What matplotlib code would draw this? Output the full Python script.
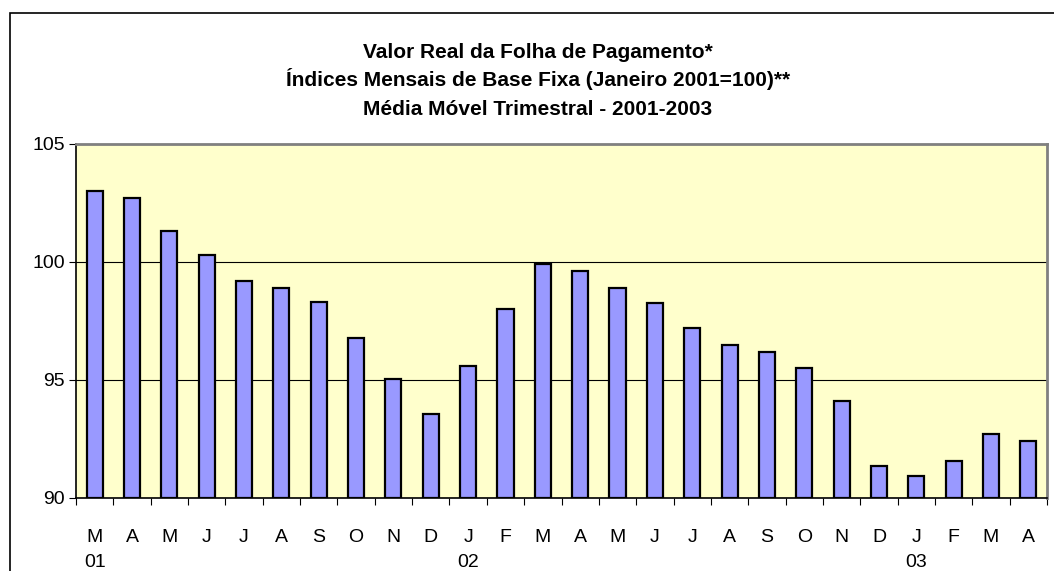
import numpy as np
import matplotlib
matplotlib.use("Agg")
import matplotlib.pyplot as plt
from matplotlib.patches import Rectangle

months = ["M", "A", "M", "J", "J", "A", "S", "O", "N", "D", "J", "F",
          "M", "A", "M", "J", "J", "A", "S", "O", "N", "D", "J", "F", "M", "A"]
years = {0: "01", 10: "02", 22: "03"}
values = [103.0, 102.7, 101.3, 100.3, 99.2, 98.9, 98.3, 96.8, 95.05, 93.55,
          95.6, 98.0, 99.9, 99.6, 98.9, 98.25, 97.2, 96.5, 96.2, 95.5,
          94.1, 91.35, 90.95, 91.55, 92.7, 92.4]

title_lines = ["Valor Real da Folha de Pagamento*",
               "Índices Mensais de Base Fixa (Janeiro 2001=100)**",
               "Média Móvel Trimestral - 2001-2003"]

plt.rcParams["font.family"] = ["Liberation Sans", "DejaVu Sans"]

fig = plt.figure(figsize=(10.54, 5.71), dpi=100)
ax = fig.add_axes([76/1054, 1 - 498/571, (1047-76)/1054, (498-144)/571])
ax.set_facecolor("#FFFFCC")

x = np.arange(len(values))
ax.bar(x, [v - 90 for v in values], bottom=90, width=0.43,
       color="#9999FF", edgecolor="black", linewidth=1.6, zorder=3)

ax.set_xlim(-0.5, len(values) - 0.5)
ax.set_ylim(90, 105)
ax.set_yticks([90, 95, 100, 105])
ax.yaxis.grid(True, color="black", linewidth=0.8, zorder=1)
ax.tick_params(axis="y", direction="out", length=5, labelsize=14, pad=3)

# ticks between categories, labels centred under bars
ax.set_xticks(np.arange(len(values) + 1) - 0.5)
ax.set_xticklabels([])
ax.tick_params(axis="x", direction="out", length=5)
ax.set_xticks(x, minor=True)
labels = [m + "\n" + years.get(i, "") for i, m in enumerate(months)]
ax.set_xticklabels(labels, minor=True, fontsize=14, linespacing=1.65)
ax.tick_params(axis="x", which="minor", length=0, pad=22)

for s in ["top", "right"]:
    ax.spines[s].set_color("#808080")
    ax.spines[s].set_linewidth(2)
for s in ["left", "bottom"]:
    ax.spines[s].set_color("black")
    ax.spines[s].set_linewidth(1.2)

# title, one line at a time so the accent does not skew the spacing
for line, base in zip(title_lines, [57.5, 86.5, 115]):
    fig.text(538/1054, 1 - base/571, line, ha="center", va="baseline",
             fontsize=15, fontweight="bold")

# outer chart border
fig.patches.append(Rectangle((10/1054, -0.1), 1.2, 1 - 13/571 + 0.1,
                             transform=fig.transFigure, fill=False,
                             edgecolor="black", linewidth=1.2))

fig.savefig("out.png", dpi=100)
